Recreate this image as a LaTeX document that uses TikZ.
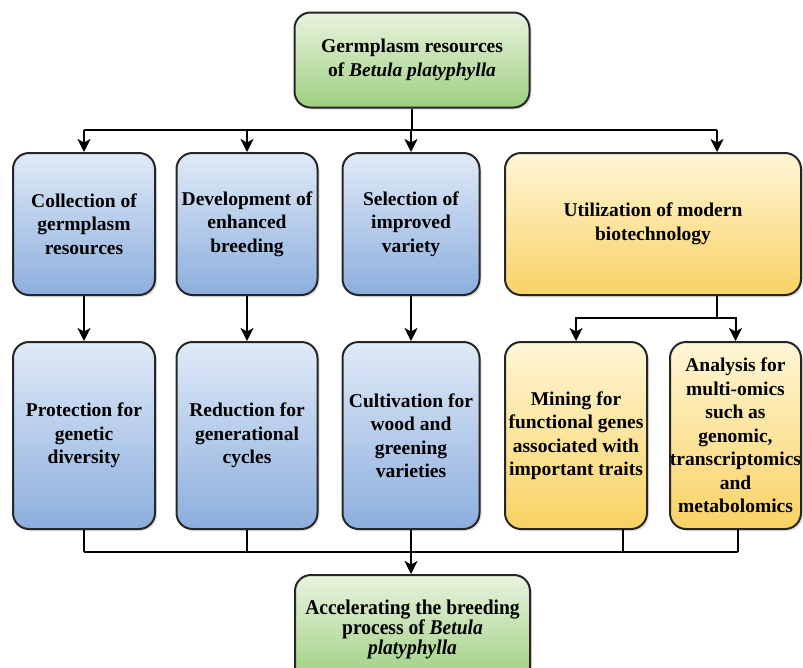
\documentclass[tikz,border=0pt]{standalone}
\usepackage{fontspec}
\setmainfont{Liberation Serif}
\newfontfamily\narrowserif[FakeStretch=0.93]{Liberation Serif}
\usetikzlibrary{arrows.meta,shadows}
\definecolor{bluetop}{HTML}{E0EAF7}
\definecolor{bluebot}{HTML}{8CAEDD}
\definecolor{yellowtop}{HTML}{FFF6D6}
\definecolor{yellowbot}{HTML}{F8D263}
\definecolor{greentop}{HTML}{E8F3DE}
\definecolor{greenbot}{HTML}{9ECF80}
\begin{document}
\begin{tikzpicture}[x=1pt,y=-1pt,
  box/.style={draw=black!85, line width=2pt, rounded corners=16pt, inner sep=0pt,
    align=center, font=\fontsize{19.5}{23.5}\selectfont\bfseries,
    drop shadow={shadow xshift=2pt, shadow yshift=-2pt, opacity=0.25}},
  bluebox/.style={box, top color=bluetop, bottom color=bluebot},
  yellowbox/.style={box, top color=yellowtop, bottom color=yellowbot},
  greenbox/.style={box, top color=greentop, bottom color=greenbot,
    minimum width=235pt, minimum height=95pt},
  link/.style={line width=2pt},
  arr/.style={link, -{Stealth[length=13pt,width=13pt,inset=3.5pt]}}]
\useasboundingbox (0,0) rectangle (803,667);

% source
\node[greenbox] (germ) at (412,60) {Germplasm resources\\of \textit{Betula platyphylla}};

% first row
\node[bluebox, minimum width=142pt, minimum height=142pt] (colA) at (84,224) {Collection of\\germplasm\\resources};
\node[bluebox, minimum width=141pt, minimum height=142pt] (devB) at (247,224) {Development of\\enhanced\\breeding};
\node[bluebox, minimum width=137pt, minimum height=142pt] (selC) at (411,224) {Selection of\\improved\\variety};
\node[yellowbox, minimum width=296pt, minimum height=142pt] (utilD) at (653,224) {Utilization of modern\\biotechnology};

% second row
\node[bluebox, minimum width=142pt, minimum height=187pt] (protA) at (84,435.5) {Protection for\\genetic\\diversity};
\node[bluebox, minimum width=141pt, minimum height=187pt] (redB) at (247,435.5) {Reduction for\\generational\\cycles};
\node[bluebox, minimum width=137pt, minimum height=187pt] (cultC) at (411,435.5) {Cultivation for\\wood and\\greening\\varieties};
\node[yellowbox, minimum width=142pt, minimum height=187pt] (minD) at (576,435.5) {Mining for\\functional genes\\associated with\\important traits};
\node[yellowbox, minimum width=131pt, minimum height=187pt] (anaE) at (735.5,435.5) {Analysis for\\multi-omics\\such as\\genomic,\\\makebox[120pt]{transcriptomics}\\and\\metabolomics};

% goal
\node[greenbox, minimum height=108pt, font=\narrowserif\bfseries\fontsize{21}{20}\selectfont] (accel) at (412.5,629) {Accelerating the breeding\\process of \textit{Betula}\\\textit{platyphylla}};

% connectors
\coordinate (topbus) at (412,130);
\coordinate (utilIn) at (717,130);
\coordinate (fork) at (717,318);
\coordinate (botbus) at (411,552);
\coordinate (minOut) at (623,529);
\coordinate (anaOut) at (738,529);

\draw[link] (germ.south) -- (topbus);
\draw[link] (colA.north |- topbus) -- (utilIn);
\foreach \n in {colA,devB,selC}
  \draw[arr] (\n.north |- topbus) -- (\n.north);
\draw[arr] (utilIn) -- (utilIn |- utilD.north);

\draw[arr] (colA.south) -- (protA.north);
\draw[arr] (devB.south) -- (redB.north);
\draw[arr] (selC.south) -- (cultC.north);

\draw[link] (utilIn |- utilD.south) -- (fork);
\draw[arr] (fork) -| (minD.north);
\draw[arr] (fork) -| (anaE.north);

\draw[link] (protA.south) -- (protA.south |- botbus);
\draw[link] (redB.south) -- (redB.south |- botbus);
\draw[link] (minOut) -- (minOut |- botbus);
\draw[link] (anaOut) -- (anaOut |- botbus);
\draw[link] (protA.south |- botbus) -- (anaOut |- botbus);
\draw[arr] (cultC.south) -- (cultC.south |- accel.north);
\end{tikzpicture}
\end{document}
